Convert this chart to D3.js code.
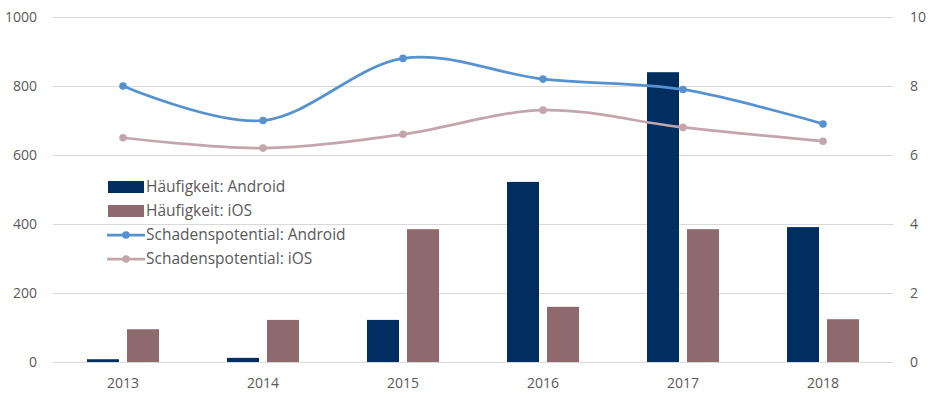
<!DOCTYPE html>
<html>
<head>
<meta charset="utf-8">
<script src="https://cdn.jsdelivr.net/npm/d3@7"></script>
<style>
body { margin: 0; background: #fff; }
text { font-family: "Open Sans", "Noto Sans", sans-serif; fill: #595959; }
</style>
</head>
<body>
<script>
// values
var years = ["2013", "2014", "2015", "2016", "2017", "2018"];
var haeufigAndroid = [8, 12, 122, 522, 840, 391];
var haeufigIOS = [95, 122, 385, 160, 385, 124];
var schadenAndroid = [8.0, 7.0, 8.8, 8.2, 7.9, 6.9];
var schadenIOS = [6.5, 6.2, 6.6, 7.3, 6.8, 6.4];
var leftTicks = [0, 200, 400, 600, 800, 1000];
var rightTicks = [0, 2, 4, 6, 8, 10];

var colors = {
	barAndroid: "#002e60",
	barIOS: "#8e6a6e",
	lineAndroid: "#5592cf",
	lineIOS: "#c3a6ad",
	grid: "#d9d9d9"
};

var chart = { width: 933, height: 398, left: 53, right: 893, top: 17, bottom: 362 };

var svg = d3.select("body")
	.append("svg")
	.attr("width", chart.width)
	.attr("height", chart.height);

var x = d3.scaleBand().domain(years).range([chart.left, chart.right]);
var yLeft = d3.scaleLinear().domain([0, 1000]).range([chart.bottom, chart.top]);
var yRight = d3.scaleLinear().domain([0, 10]).range([chart.bottom, chart.top]);

//gridlines
svg.append("g")
	.selectAll("line")
	.data(leftTicks)
	.enter()
	.append("line")
	.attr("x1", chart.left)
	.attr("x2", chart.right)
	.attr("y1", function(d){ return yLeft(d) + 0.5; })
	.attr("y2", function(d){ return yLeft(d) + 0.5; })
	.attr("stroke", colors.grid)
	.attr("stroke-width", 1);

//axes
var leftAxis = svg.append("g")
	.attr("transform", "translate(" + (chart.left - 16) + ",0)")
	.call(d3.axisLeft(yLeft).tickValues(leftTicks).tickFormat(d3.format("d")).tickSize(0).tickPadding(0));
var rightAxis = svg.append("g")
	.attr("transform", "translate(" + (chart.right + 17) + ",0)")
	.call(d3.axisRight(yRight).tickValues(rightTicks).tickFormat(d3.format("d")).tickSize(0).tickPadding(0));
var bottomAxis = svg.append("g")
	.attr("transform", "translate(0," + (chart.bottom + 13) + ")")
	.call(d3.axisBottom(x).tickSize(0).tickPadding(0));

[leftAxis, rightAxis, bottomAxis].forEach(function(a){
	a.select(".domain").remove();
	a.selectAll("text").style("font-size", "14px").attr("fill", "#595959");
});
bottomAxis.selectAll("text").attr("dy", "0.9em");

//bars
var barW = 32, gap = 8;
function addBars(values, offset, color){
	svg.append("g")
		.selectAll("rect")
		.data(values)
		.enter()
		.append("rect")
		.attr("x", function(d, i){ return x(years[i]) + x.bandwidth() / 2 + offset; })
		.attr("y", function(d){ return yLeft(d); })
		.attr("width", barW)
		.attr("height", function(d){ return chart.bottom - yLeft(d); })
		.attr("fill", color);
}
addBars(haeufigAndroid, -barW - gap / 2, colors.barAndroid);
addBars(haeufigIOS, gap / 2, colors.barIOS);

//lines
var line = d3.line()
	.x(function(d, i){ return x(years[i]) + x.bandwidth() / 2; })
	.y(function(d){ return yRight(d); })
	.curve(d3.curveCatmullRom.alpha(0));

function addLine(values, color){
	svg.append("path")
		.datum(values)
		.attr("d", line)
		.attr("fill", "none")
		.attr("stroke", color)
		.attr("stroke-width", 2.75)
		.attr("stroke-linecap", "round");
	svg.append("g")
		.selectAll("circle")
		.data(values)
		.enter()
		.append("circle")
		.attr("cx", function(d, i){ return x(years[i]) + x.bandwidth() / 2; })
		.attr("cy", function(d){ return yRight(d); })
		.attr("r", 3.8)
		.attr("fill", color);
}
addLine(schadenIOS, colors.lineIOS);
addLine(schadenAndroid, colors.lineAndroid);

//legend
var legendItems = [
	{ name: "Häufigkeit: Android", color: colors.barAndroid, type: "bar" },
	{ name: "Häufigkeit: iOS", color: colors.barIOS, type: "bar" },
	{ name: "Schadenspotential: Android", color: colors.lineAndroid, type: "line" },
	{ name: "Schadenspotential: iOS", color: colors.lineIOS, type: "line" }
];

var legend = svg.append("g")
	.selectAll("g")
	.data(legendItems)
	.enter()
	.append("g")
	.attr("transform", function(d, i){ return "translate(107," + (187 + i * 24) + ")"; });

legend.filter(function(d){ return d.type === "bar"; })
	.append("rect")
	.attr("x", 1)
	.attr("y", -6)
	.attr("width", 36)
	.attr("height", 12)
	.attr("fill", function(d){ return d.color; });

legend.filter(function(d){ return d.type === "line"; })
	.append("line")
	.attr("x1", 0)
	.attr("x2", 38)
	.attr("stroke", function(d){ return d.color; })
	.attr("stroke-width", 2.75);

legend.filter(function(d){ return d.type === "line"; })
	.append("circle")
	.attr("cx", 19)
	.attr("r", 3.8)
	.attr("fill", function(d){ return d.color; });

legend.append("text")
	.attr("x", 39)
	.attr("dy", "0.35em")
	.style("font-size", "15.5px")
	.text(function(d){ return d.name; });
</script>
</body>
</html>
